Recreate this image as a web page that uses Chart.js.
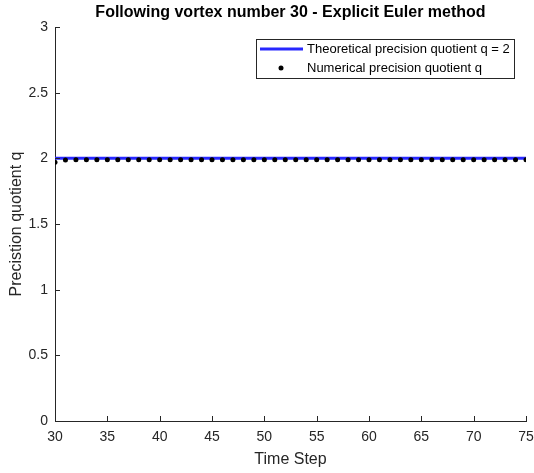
<!DOCTYPE html>
<html lang="en">
<head>
    <meta charset="UTF-8">
    <title>Following vortex number 30 - Explicit Euler method</title>
    <script src="https://cdn.jsdelivr.net/npm/chart.js"></script>
    <style>
        html, body { margin: 0; padding: 0; background: #fff; }
        #wrap { width: 534px; height: 473px; }
    </style>
</head>
<body>
    <div id="wrap"><canvas id="grafico"></canvas></div>

    <script>
        // datos
        const timeSteps = [30, 31, 32, 33, 34, 35, 36, 37, 38, 39, 40, 41, 42, 43, 44, 45,
            46, 47, 48, 49, 50, 51, 52, 53, 54, 55, 56, 57, 58, 59, 60, 61,
            62, 63, 64, 65, 66, 67, 68, 69, 70, 71, 72, 73, 74, 75];
        const numericalQ = [1.97, 1.988, 1.99, 1.99, 1.99, 1.99, 1.99, 1.99, 1.99, 1.99, 1.99, 1.99, 1.99, 1.99, 1.99, 1.99,
            1.99, 1.99, 1.99, 1.99, 1.99, 1.99, 1.99, 1.99, 1.99, 1.99, 1.99, 1.99, 1.99, 1.99, 1.99, 1.99,
            1.99, 1.99, 1.99, 1.99, 1.99, 1.99, 1.99, 1.99, 1.99, 1.99, 1.99, 1.99, 1.99, 1.99];
        const theoreticalQ = 2;
        const xTicks = [30, 35, 40, 45, 50, 55, 60, 65, 70, 75];
        const yTicks = [0, 0.5, 1, 1.5, 2, 2.5, 3];
        const yTickLabels = ['0', '0.5', '1', '1.5', '2', '2.5', '3'];

        const titulo = 'Following vortex number 30 - Explicit Euler method';
        const etiquetas = ['Theoretical precision quotient q = 2', 'Numerical precision quotient q'];

        const azul = 'rgb(40, 40, 255)';
        const gris = '#262626';
        const fuente = '"Liberation Sans", Arial, sans-serif';

        // marcas hacia adentro, titulo y leyenda al estilo MATLAB
        const estiloMatlab = {
            id: 'estiloMatlab',
            afterDraw(chart) {
                const ctx = chart.ctx;
                const xs = chart.scales.x, ys = chart.scales.y;
                const area = chart.chartArea;
                ctx.save();
                ctx.strokeStyle = gris;
                ctx.lineWidth = 1;
                ctx.beginPath();
                xTicks.forEach(v => {
                    const px = Math.round(xs.getPixelForValue(v)) + 0.5;
                    ctx.moveTo(px, area.bottom);
                    ctx.lineTo(px, area.bottom - 5);
                });
                yTicks.forEach(v => {
                    const py = Math.round(ys.getPixelForValue(v)) + 0.5;
                    ctx.moveTo(area.left, py);
                    ctx.lineTo(area.left + 5, py);
                });
                ctx.stroke();

                // titulo
                ctx.fillStyle = '#000';
                ctx.font = 'bold 16px ' + fuente;
                ctx.textAlign = 'center';
                ctx.textBaseline = 'middle';
                ctx.fillText(titulo, (area.left + area.right) / 2, 13);

                // leyenda
                const bx = 256.5, by = 39.5, bw = 258, bh = 39;
                ctx.fillStyle = '#fff';
                ctx.fillRect(bx, by, bw, bh);
                ctx.strokeStyle = gris;
                ctx.lineWidth = 1;
                ctx.strokeRect(bx, by, bw, bh);

                ctx.strokeStyle = azul;
                ctx.lineWidth = 3;
                ctx.beginPath();
                ctx.moveTo(260, 49);
                ctx.lineTo(303, 49);
                ctx.stroke();

                ctx.fillStyle = '#000';
                ctx.beginPath();
                ctx.arc(281, 68, 2.5, 0, Math.PI * 2);
                ctx.fill();

                ctx.font = '13px ' + fuente;
                ctx.textAlign = 'left';
                ctx.fillText(etiquetas[0], 307, 49);
                ctx.fillText(etiquetas[1], 307, 68);
                ctx.restore();
            }
        };

        const ctx = document.getElementById('grafico').getContext('2d');
        const myChart = new Chart(ctx, {
            type: 'scatter',
            data: {
                datasets: [{
                    label: etiquetas[1],
                    data: timeSteps.map((t, i) => ({ x: t, y: numericalQ[i] })),
                    showLine: false,
                    pointRadius: 2.5,
                    pointBackgroundColor: '#000',
                    pointBorderWidth: 0,
                    order: 0
                }, {
                    label: etiquetas[0],
                    data: timeSteps.map(t => ({ x: t, y: theoreticalQ })),
                    showLine: true,
                    borderColor: azul,
                    borderWidth: 3,
                    pointRadius: 0,
                    order: 1
                }]
            },
            options: {
                responsive: true,
                maintainAspectRatio: false,
                animation: false,
                layout: { padding: { top: 27, right: 0, left: 0, bottom: 0 } },
                plugins: {
                    legend: { display: false },
                    tooltip: { enabled: false }
                },
                scales: {
                    x: {
                        type: 'linear',
                        min: 30,
                        max: 75,
                        afterBuildTicks: s => { s.ticks = xTicks.map(v => ({ value: v })); },
                        afterFit: s => { s.height = 52; s.paddingRight = 8; s.paddingLeft = 0; },
                        grid: { display: false, drawTicks: false },
                        border: { display: true, color: gris, width: 1 },
                        ticks: {
                            color: gris,
                            padding: 8,
                            maxRotation: 0,
                            font: { family: fuente, size: 14 }
                        },
                        title: {
                            display: true,
                            text: 'Time Step',
                            color: gris,
                            padding: { top: 0, bottom: 4 },
                            font: { family: fuente, size: 16 }
                        }
                    },
                    y: {
                        min: 0,
                        max: 3,
                        afterBuildTicks: s => { s.ticks = yTicks.map(v => ({ value: v })); },
                        afterFit: s => { s.width = 55; s.paddingTop = 0; s.paddingBottom = 0; },
                        grid: { display: false, drawTicks: false },
                        border: { display: true, color: gris, width: 1 },
                        ticks: {
                            color: gris,
                            padding: 7,
                            font: { family: fuente, size: 14 },
                            callback: (v, i) => yTickLabels[i]
                        },
                        title: {
                            display: true,
                            text: 'Precistion quotient q',
                            color: gris,
                            padding: { top: 7, bottom: 0 },
                            font: { family: fuente, size: 16 }
                        }
                    }
                }
            },
            plugins: [estiloMatlab]
        });
    </script>
</body>
</html>
